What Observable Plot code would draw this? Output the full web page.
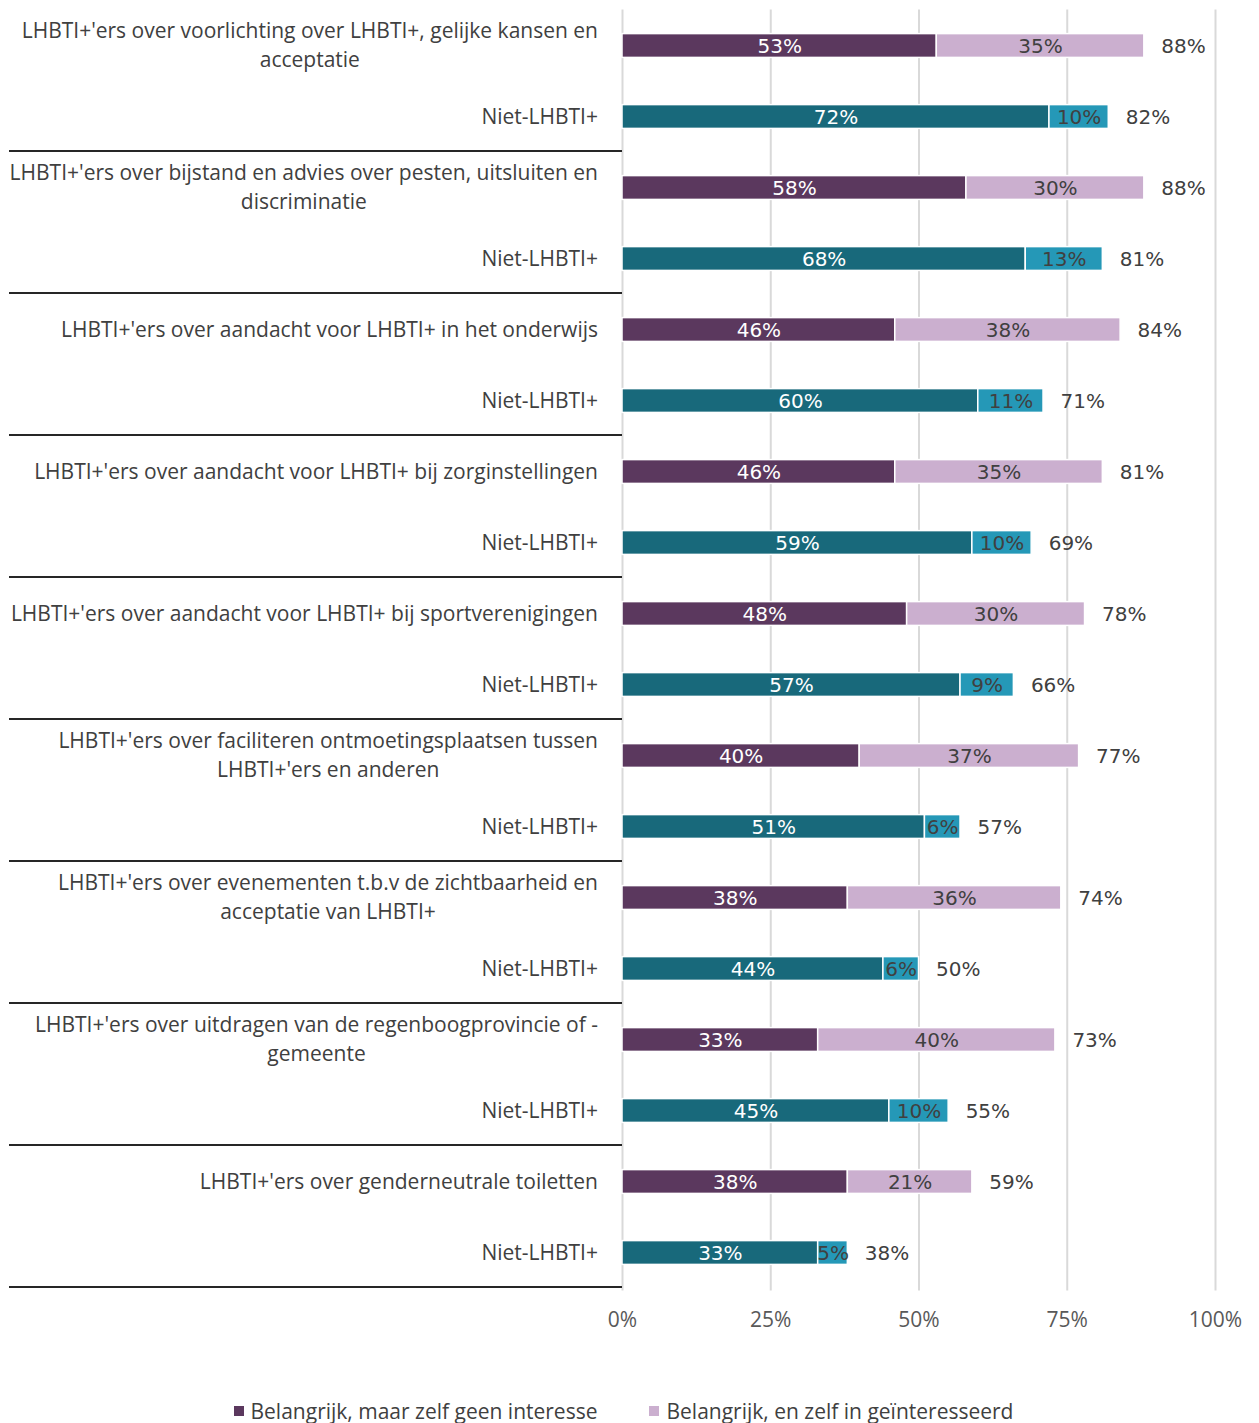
<!DOCTYPE html>
<html>
<head>
<meta charset="utf-8">
<script src="https://cdn.jsdelivr.net/npm/d3@7"></script>
<script src="https://cdn.jsdelivr.net/npm/@observablehq/plot@0.6"></script>
<style>
  html, body { margin: 0; padding: 0; background: #fff; }
  #legend { display: flex; justify-content: center; gap: 52px; font: 21px "Open Sans"; color: #404040;
            padding-top: 17px; line-height: 28px; padding-right: 12px; }
  #legend .item { display: flex; align-items: center; white-space: nowrap; }
  #legend .sw { display: inline-block; width: 10px; height: 10px; margin-right: 7px; }
</style>
</head>
<body>
<div id="chart"></div>
<div id="legend"></div>
<script>
// ---- data ----
const topics = [
  "LHBTI+'ers over voorlichting over LHBTI+, gelijke kansen en\nacceptatie",
  "LHBTI+'ers over bijstand en advies over pesten, uitsluiten en\ndiscriminatie",
  "LHBTI+'ers over aandacht voor LHBTI+ in het onderwijs",
  "LHBTI+'ers over aandacht voor LHBTI+ bij zorginstellingen",
  "LHBTI+'ers over aandacht voor LHBTI+ bij sportverenigingen",
  "LHBTI+'ers over faciliteren ontmoetingsplaatsen tussen\nLHBTI+'ers en anderen",
  "LHBTI+'ers over evenementen t.b.v de zichtbaarheid en\nacceptatie van LHBTI+",
  "LHBTI+'ers over uitdragen van de regenboogprovincie of -\ngemeente",
  "LHBTI+'ers over genderneutrale toiletten"
];
const comparisonLabel = "Niet-LHBTI+";
const lhbtiGeenInteresse = [53, 58, 46, 46, 48, 40, 38, 33, 38];
const lhbtiWelInteresse  = [35, 30, 38, 35, 30, 37, 36, 40, 21];
const nietGeenInteresse  = [72, 68, 60, 59, 57, 51, 44, 45, 33];
const nietWelInteresse   = [10, 13, 11, 10,  9,  6,  6, 10,  5];
const xTicks = [0, 25, 50, 75, 100];
const legendLabels = ["Belangrijk, maar zelf geen interesse", "Belangrijk, en zelf in geïnteresseerd"];
const seriesKeys = ["lhbti-geen", "lhbti-wel", "niet-geen", "niet-wel"];
const seriesColors = ["#5b385e", "#cbafcf", "#18697b", "#2598b7"];
const seriesTextColors = ["#ffffff", "#404040", "#ffffff", "#404040"];

// ---- build tables ----
const rowKeys = [];
const rowLabels = {};
const segments = [];
const totals = [];
topics.forEach((t, i) => {
  const kL = `${i}-L`, kN = `${i}-N`;
  rowKeys.push(kL, kN);
  rowLabels[kL] = t.split("\n");
  rowLabels[kN] = [comparisonLabel];
  const pairs = [
    [kL, lhbtiGeenInteresse[i], lhbtiWelInteresse[i], 0],
    [kN, nietGeenInteresse[i], nietWelInteresse[i], 2]
  ];
  for (const [k, a, b, s] of pairs) {
    segments.push({row: k, x1: 0, x2: a, v: a, series: seriesKeys[s], tc: seriesTextColors[s]});
    segments.push({row: k, x1: a, x2: a + b, v: b, series: seriesKeys[s + 1], tc: seriesTextColors[s + 1]});
    totals.push({row: k, total: a + b});
  }
});

// ---- measuring helper ----
const FS = 21;
const mctx = document.createElement("canvas").getContext("2d");
mctx.font = `${FS}px "Open Sans"`;

function categoryAxis(index, scales, values, dimensions) {
  const y = scales.y;
  const step = y(rowKeys[1]) - y(rowKeys[0]);
  const g = d3.create("svg:g");
  const right = dimensions.marginLeft - 24;
  // group separators
  topics.forEach((t, i) => {
    const yy = Math.round(y(rowKeys[2 * i + 1]) + step) - 2;
    g.append("line")
      .attr("x1", 9).attr("x2", dimensions.marginLeft)
      .attr("y1", yy).attr("y2", yy)
      .attr("stroke", "#262626").attr("stroke-width", 2);
  });
  // labels
  for (const k of rowKeys) {
    const lines = rowLabels[k];
    const w = d3.max(lines, l => mctx.measureText(l).width);
    const cx = right - w / 2;
    const cy = y(k) + step / 2;
    lines.forEach((l, j) => {
      g.append("text")
        .attr("x", cx)
        .attr("y", cy + (j - (lines.length - 1) / 2) * 29)
        .attr("dy", "0.3em")
        .attr("text-anchor", "middle")
        .attr("fill", "#404040")
        .attr("font-family", "Open Sans")
        .attr("font-size", FS)
        .text(l);
    });
  }
  return g.node();
}

const H = 1380;
const plot = Plot.plot({
  width: 1259,
  height: H,
  marginLeft: 622,
  marginRight: 44,
  marginTop: 9.4,
  marginBottom: H - 1290.6,
  style: {fontFamily: "Open Sans", fontSize: FS + "px", background: "white"},
  x: {domain: [0, 100], axis: null},
  y: {domain: rowKeys, padding: 0, axis: null},
  color: {domain: seriesKeys, range: seriesColors, legend: false},
  marks: [
    Plot.ruleX(xTicks, {stroke: "#d9d9d9", strokeWidth: 2}),
    Plot.axisX({ticks: xTicks, tickSize: 0, tickPadding: 21, tickFormat: d => d + "%",
                fill: "#595959", fontSize: FS, fontFamily: "Open Sans"}),
    Plot.barX(segments, {x1: "x1", x2: "x2", y: "row", fill: "series",
                         stroke: "white", strokeWidth: 1.5, insetTop: 23.6, insetBottom: 23.6, dy: -1}),
    Plot.text(segments, {x: d => (d.x1 + d.x2) / 2, y: "row", text: d => d.v + "%",
                         fill: "tc", fontFamily: "DejaVu Sans", fontSize: 20}),
    Plot.text(totals, {x: "total", y: "row", text: d => d.total + "%", textAnchor: "start",
                       dx: 17, fill: "#404040", fontFamily: "DejaVu Sans", fontSize: 20}),
    categoryAxis
  ]
});
document.getElementById("chart").appendChild(plot);

// ---- legend ----
const legend = d3.select("#legend");
legendLabels.forEach((l, i) => {
  const it = legend.append("div").attr("class", "item");
  it.append("span").attr("class", "sw").style("background", seriesColors[i]);
  it.append("span").text(l);
});
</script>
</body>
</html>
